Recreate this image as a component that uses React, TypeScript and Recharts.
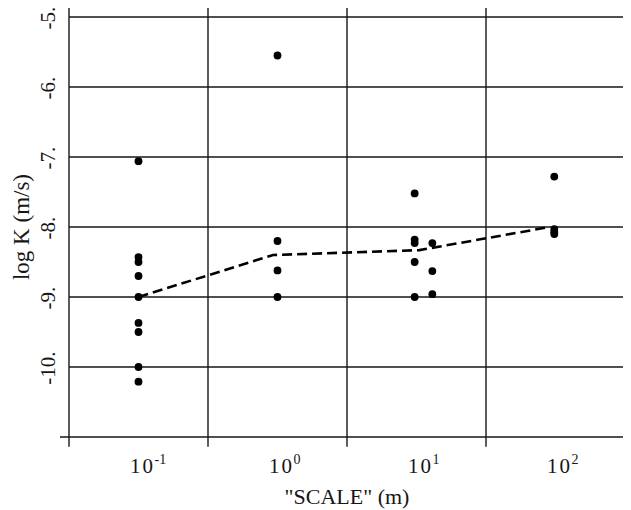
import React from "react";
import { ScatterChart, Scatter, XAxis, YAxis, ReferenceLine } from "recharts";

// Measured points: "scale" (m) and log K (m/s)
const scaleA = [0.1, 0.1, 0.1, 0.1, 0.1, 0.1, 0.1, 0.1, 0.1];
const logKA = [-7.06, -8.43, -8.5, -8.7, -9.0, -9.37, -9.5, -10.0, -10.21];
const scaleB = [1.0, 1.0, 1.0, 1.0];
const logKB = [-5.55, -8.2, -8.62, -9.0];
const scaleC = [9.7, 9.7, 9.7, 9.7, 9.7];
const logKC = [-7.52, -8.18, -8.23, -8.5, -9.0];
const scaleD = [13, 13, 13];
const logKD = [-8.23, -8.63, -8.96];
const scaleE = [98, 98, 98, 98];
const logKE = [-7.28, -8.03, -8.07, -8.1];

// Dashed trend curve
const trendScale = [0.1, 0.93, 10.5, 85];
const trendLogK = [-9.0, -8.4, -8.33, -8.01];

// Axes
const xTicks = [0.1, 1, 10, 100];
const xTickExp = ["-1", "0", "1", "2"];
const xGrid = [Math.pow(10, -1.5), Math.pow(10, -0.5), Math.pow(10, 0.5), Math.pow(10, 1.5), Math.pow(10, 2.5)];
const yTicks = [-11, -10, -9, -8, -7, -6, -5];
const xDomain = [Math.pow(10, -1.5), Math.pow(10, 2.5)];
const yDomain = [-11, -5];

const points = [
  ...scaleA.map((x, i) => ({ x, y: logKA[i] })),
  ...scaleB.map((x, i) => ({ x, y: logKB[i] })),
  ...scaleC.map((x, i) => ({ x, y: logKC[i] })),
  ...scaleD.map((x, i) => ({ x, y: logKD[i] })),
  ...scaleE.map((x, i) => ({ x, y: logKE[i] })),
];
const trend = trendScale.map((x, i) => ({ x, y: trendLogK[i] }));

const FONT = '"Liberation Serif", "DejaVu Serif", serif';
const INK = "#161616";

const XTick = (props: any) => {
  const { x, y, payload } = props;
  const idx = xTicks.indexOf(payload.value);
  return (
    <g>
      <text x={x + 4} y={y + 36} textAnchor="middle" fontFamily={FONT} fontSize={21} fill={INK} letterSpacing="2">
        10
      </text>
      <text x={x + 16} y={y + 27} textAnchor="start" fontFamily={FONT} fontSize={14} fill={INK}>
        {xTickExp[idx]}
      </text>
    </g>
  );
};

const YTick = (props: any) => {
  const { x, y, payload } = props;
  if (payload.value === -11) return <g />;
  const cy = y + 1;
  return (
    <text
      x={x}
      y={cy}
      transform={`rotate(-90, ${x}, ${cy})`}
      textAnchor="middle"
      fontFamily={FONT}
      fontSize={21}
      fill={INK}
    >
      {`${payload.value}.`}
    </text>
  );
};

const YLabel = (props: any) => {
  const vb = props.viewBox;
  const cx = vb.x + 21;
  const cy = vb.y + vb.height / 2;
  return (
    <text x={cx} y={cy} transform={`rotate(-90, ${cx}, ${cy})`} textAnchor="middle" fontFamily={FONT} fontSize={23} fill={INK}>
      log K (m/s)
    </text>
  );
};

const Dot = (props: any) => <circle cx={props.cx} cy={props.cy} r={3.9} fill="#000" />;
const NoDot = () => <g />;

export default function App() {
  const leftExt = Math.pow(10, -1.565);
  const rightExt = Math.pow(10, 2.545);
  return (
    <div style={{ width: 623, height: 502 }}>
      <ScatterChart width={623} height={502} margin={{ top: 9, right: 6, bottom: 0, left: 0 }}>
        <XAxis
          dataKey="x"
          type="number"
          scale="log"
          domain={xDomain}
          allowDataOverflow
          ticks={xTicks}
          tick={<XTick />}
          tickLine={false}
          axisLine={false}
          tickSize={0}
          tickMargin={0}
          height={73}
          interval={0}
          label={{ value: '"SCALE" (m)', position: "insideBottom", offset: 6, fontFamily: FONT, fontSize: 22, fill: INK }}
        />
        <YAxis
          dataKey="y"
          type="number"
          domain={yDomain}
          ticks={yTicks}
          tick={<YTick />}
          tickLine={false}
          axisLine={false}
          tickSize={0}
          tickMargin={14}
          width={61}
          interval={0}
          label={{ content: <YLabel /> }}
        />
        {yTicks.map((v) => (
          <ReferenceLine
            key={"h" + v}
            segment={[
              { x: v === -11 ? leftExt : xDomain[0], y: v },
              { x: rightExt, y: v },
            ]}
            ifOverflow="visible"
            stroke={INK}
            strokeWidth={1.4}
          />
        ))}
        {xGrid.map((v, i) => (
          <ReferenceLine
            key={"v" + i}
            segment={[
              { x: v, y: -11.14 },
              { x: v, y: -4.87 },
            ]}
            ifOverflow="visible"
            stroke={INK}
            strokeWidth={1.4}
          />
        ))}
        <Scatter
          data={trend}
          line={{ stroke: "#000", strokeWidth: 2.6, strokeDasharray: "10 5" }}
          shape={<NoDot />}
          isAnimationActive={false}
        />
        <Scatter data={points} shape={<Dot />} isAnimationActive={false} />
      </ScatterChart>
    </div>
  );
}
